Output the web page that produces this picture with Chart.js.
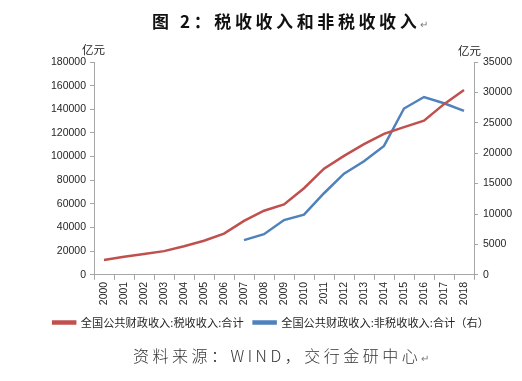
<!DOCTYPE html>
<html>
<head>
<meta charset="utf-8">
<script src="https://cdn.jsdelivr.net/npm/chart.js@4.4.1/dist/chart.umd.min.js"></script>
<style>
  html,body{margin:0;padding:0;background:#fff;}
  #wrap{position:relative;width:522px;height:381px;overflow:hidden;}
  #c{position:absolute;left:0;top:0;}
  .t{position:absolute;white-space:nowrap;}
  #title{left:152px;top:8px;font-family:"Noto Sans CJK SC";font-weight:700;font-size:17px;letter-spacing:3.6px;color:#111;}
  #src{left:133px;top:343px;font-family:"Noto Sans CJK SC";font-weight:300;font-size:16px;letter-spacing:3.5px;color:#333;}
  .mk{font-size:10px;color:#777;letter-spacing:0;font-weight:400;}
  .unit{font-family:"Noto Sans CJK SC";font-size:11.5px;color:#222;}
</style>
</head>
<body>
<div id="wrap">
  <canvas id="c" width="522" height="381"></canvas>
  <div class="t" id="title">图 2：税收收入和非税收收入<span class="mk">↵</span></div>
  <div class="t unit" style="left:82px;top:41px;">亿元</div>
  <div class="t unit" style="left:458px;top:42px;">亿元</div>
  <div class="t" id="src">资料来源：WIND，交行金研中心<span class="mk">↵</span></div>
</div>
<script>
const years = ["2000","2001","2002","2003","2004","2005","2006","2007","2008","2009","2010","2011","2012","2013","2014","2015","2016","2017","2018"];
const taxRevenue = [12582,15301,17636,20017,24166,28779,34804,45622,54224,59522,73211,89738,100614,110531,119175,124922,130361,144370,156403];
const nonTaxRevenue = [null,null,null,null,null,null,null,5700,6680,8997,9890,13414,16639,18679,21195,27347,29244,28222,26957];
const leftTicks = {min:0, max:180000, step:20000};
const rightTicks = {min:0, max:35000, step:5000};
const seriesNames = ["全国公共财政收入:税收收入:合计","全国公共财政收入:非税收收入:合计（右）"];

const RED = "#C0504D", BLUE = "#4F81BD", AXIS = "#A6A6A6", TXT = "#262626";
const tickFont = {family:"Liberation Sans", size:10.5};
const plain = v => String(v);

new Chart(document.getElementById("c"), {
  type: "line",
  data: {
    labels: years,
    datasets: [
      {label: seriesNames[0], data: taxRevenue, yAxisID: "y", borderColor: RED, backgroundColor: RED, borderWidth: 2.5, pointRadius: 0, tension: 0, fill: false},
      {label: seriesNames[1], data: nonTaxRevenue, yAxisID: "y1", borderColor: BLUE, backgroundColor: BLUE, borderWidth: 2.5, pointRadius: 0, tension: 0, fill: false, spanGaps: false}
    ]
  },
  options: {
    responsive: false,
    animation: false,
    devicePixelRatio: 1,
    layout: {padding: {top: 62, left: 20, right: 0, bottom: 43}},
    plugins: {
      tooltip: {enabled: false},
      legend: {
        position: "bottom",
        labels: {boxWidth: 22, boxHeight: 2, padding: 10, color: TXT, font: {family: "Noto Sans CJK SC", size: 11.2}}
      }
    },
    scales: {
      x: {
        offset: true,
        grid: {display: true, drawOnChartArea: false, drawTicks: true, tickLength: 5, color: AXIS, offset: true},
        border: {color: AXIS, width: 1},
        ticks: {color: TXT, font: tickFont, minRotation: 90, maxRotation: 90, autoSkip: false, padding: 2},
        afterFit: s => { s.height = 32; }
      },
      y: {
        position: "left",
        min: leftTicks.min, max: leftTicks.max,
        grid: {drawOnChartArea: false, drawTicks: true, tickLength: 4, color: AXIS},
        border: {color: AXIS, width: 1},
        ticks: {stepSize: leftTicks.step, color: TXT, font: tickFont, padding: 4, callback: plain},
        afterFit: s => { s.width = 74; }
      },
      y1: {
        position: "right",
        min: rightTicks.min, max: rightTicks.max,
        grid: {drawOnChartArea: false, drawTicks: true, tickLength: 4, color: AXIS},
        border: {color: AXIS, width: 1},
        ticks: {stepSize: rightTicks.step, color: TXT, font: tickFont, padding: 5, callback: plain},
        afterFit: s => { s.width = 48; }
      }
    }
  }
});
</script>
</body>
</html>
